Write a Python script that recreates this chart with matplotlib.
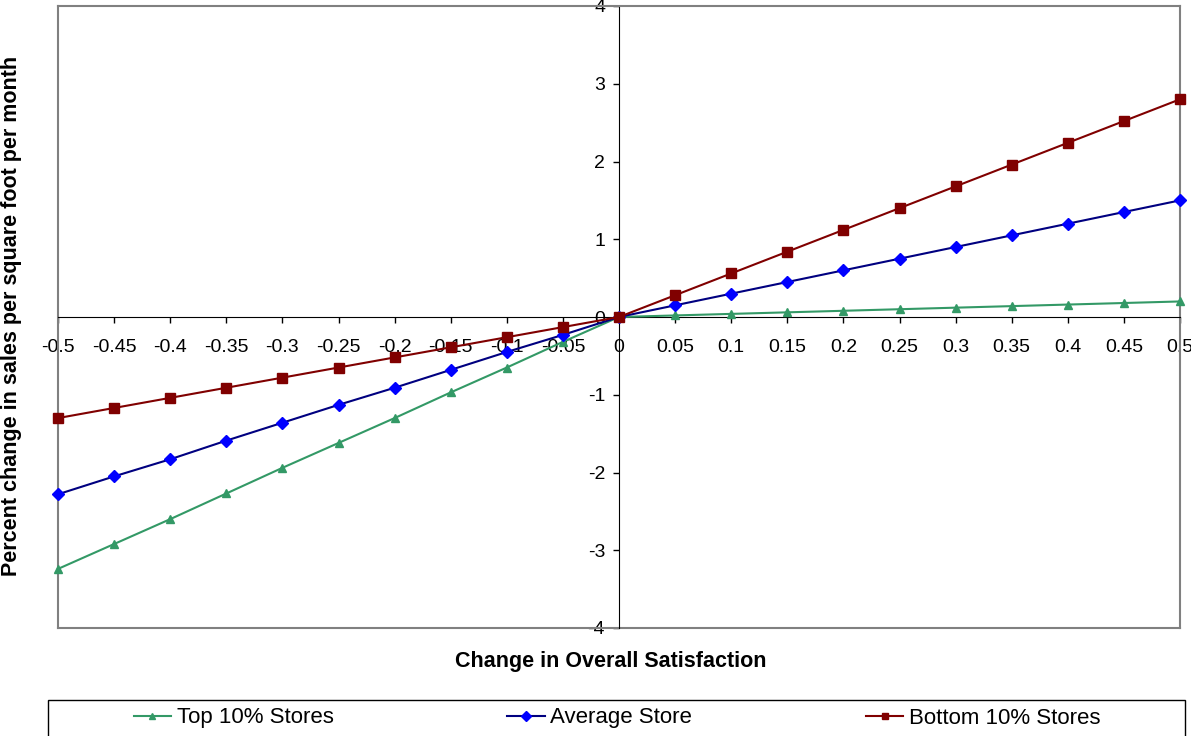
import matplotlib
matplotlib.use("Agg")
import matplotlib.pyplot as plt
from matplotlib.patches import Rectangle

plt.rcParams['font.family'] = ['Liberation Sans', 'DejaVu Sans']

satisfaction = [-0.5, -0.45, -0.4, -0.35, -0.3, -0.25, -0.2, -0.15, -0.1, -0.05, 0,
                0.05, 0.1, 0.15, 0.2, 0.25, 0.3, 0.35, 0.4, 0.45, 0.5]
x_labels = ["-0.5", "-0.45", "-0.4", "-0.35", "-0.3", "-0.25", "-0.2", "-0.15", "-0.1", "-0.05", "0",
            "0.05", "0.1", "0.15", "0.2", "0.25", "0.3", "0.35", "0.4", "0.45", "0.5"]

top10 = [-3.24, -2.92, -2.60, -2.27, -1.94, -1.62, -1.30, -0.97, -0.65, -0.32, 0,
         0.02, 0.04, 0.06, 0.08, 0.10, 0.12, 0.14, 0.16, 0.18, 0.20]
average = [-2.28, -2.05, -1.83, -1.59, -1.36, -1.13, -0.91, -0.68, -0.45, -0.23, 0,
           0.15, 0.30, 0.45, 0.60, 0.75, 0.90, 1.05, 1.20, 1.35, 1.50]
bottom10 = [-1.30, -1.17, -1.04, -0.91, -0.78, -0.65, -0.52, -0.39, -0.26, -0.13, 0,
            0.28, 0.56, 0.84, 1.12, 1.40, 1.68, 1.96, 2.24, 2.52, 2.80]

y_ticks = [-4, -3, -2, -1, 0, 1, 2, 3, 4]

fig = plt.figure(figsize=(11.91, 7.36), dpi=100)
ax = fig.add_axes([58/1191, 1 - 628/736, (1180 - 58)/1191, (628 - 6)/736])

l1, = ax.plot(satisfaction, top10, color='#339966', lw=1.5, marker='^', ms=6,
              markeredgecolor='#339966', clip_on=False, zorder=3, label='Top 10% Stores')
l2, = ax.plot(satisfaction, average, color='#000080', lw=1.5, marker='D', ms=6,
              markerfacecolor='#0000FF', markeredgecolor='#0000FF', clip_on=False, zorder=4,
              label='Average Store')
l3, = ax.plot(satisfaction, bottom10, color='#800000', lw=1.5, marker='s', ms=7.5,
              markerfacecolor='#800000', markeredgecolor='#800000', clip_on=False, zorder=5,
              label='Bottom 10% Stores')

ax.set_xlim(-0.5, 0.5)
ax.set_ylim(-4, 4)
ax.set_xticks(satisfaction)
ax.set_xticklabels(x_labels)
ax.set_yticks(y_ticks)
ax.set_yticklabels([str(v) for v in y_ticks])

# axes cross at zero, gray box around plot area
ax.spines['left'].set_position(('data', 0))
ax.spines['bottom'].set_position(('data', 0))
ax.spines['left'].set_color('black')
ax.spines['bottom'].set_color('black')
for s in ['top', 'right']:
    ax.spines[s].set_color('#808080')
    ax.spines[s].set_linewidth(1.5)
ax.plot([0, 0], [0, 1], transform=ax.transAxes, color='#808080', lw=1.5, clip_on=False)
ax.plot([0, 1], [0, 0], transform=ax.transAxes, color='#808080', lw=1.5, clip_on=False)

ax.tick_params(direction='out', length=4.5, width=1, labelsize=14)
ax.tick_params(axis='x', pad=11)
ax.tick_params(axis='y', pad=5.5)

fig.text(611/1191, 1 - 661/736, "Change in Overall Satisfaction", ha='center', va='center',
         fontsize=15.5, fontweight='bold')
fig.text(12/1191, 1 - 316/736, "Percent change in sales per square foot per month", ha='center',
         va='center', rotation=90, fontsize=15.5, fontweight='bold')

# legend box spans the width, entries centred inside
fig.patches.append(Rectangle((48/1191, -0.05), (1185 - 48)/1191, 0.05 + 36/736,
                             transform=fig.transFigure, fill=False, edgecolor='black', lw=1))
leg = fig.legend(handles=[l1, l2, l3], loc='center', ncol=3,
                 bbox_to_anchor=(617/1191, 1 - 718/736),
                 fontsize=16, frameon=False, handlelength=1.7,
                 handletextpad=0.25, columnspacing=7.8, borderaxespad=0)
for h in leg.legend_handles:
    h.set_markersize(5)

fig.savefig("out.png", dpi=100)
